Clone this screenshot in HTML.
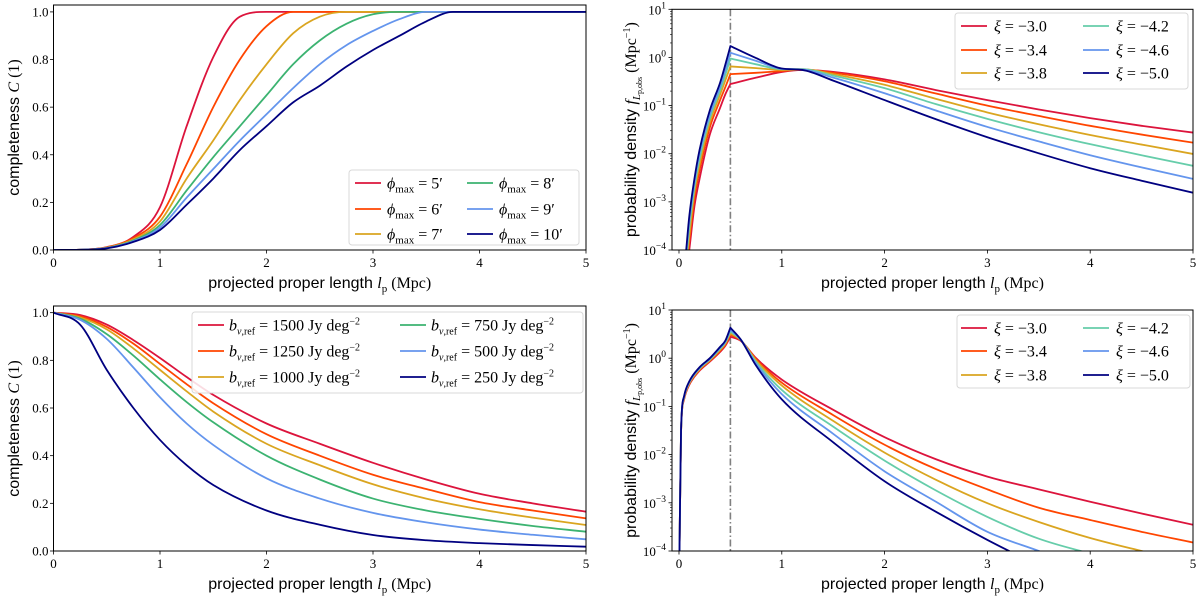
<!DOCTYPE html>
<html><head><meta charset="utf-8"><style>
html,body{margin:0;padding:0;background:#fff;width:1200px;height:599px;overflow:hidden;}
svg{display:block;}
.tk{font-family:"Liberation Serif",serif;font-size:13px;fill:#000;}
.al{font-family:"Liberation Sans",sans-serif;font-size:16px;fill:#000;}
.m{font-family:"Liberation Serif",serif;}
.lg{font-family:"Liberation Serif",serif;font-size:16px;fill:#000;}
</style></head><body>
<svg id="fig" width="1200" height="599" viewBox="0 0 1200 599" xmlns="http://www.w3.org/2000/svg"></svg>
<script>
// ---- data: top-left completeness vs phi_max ----
const tlX=[0,0.25,0.5,0.75,1,1.25,1.5,1.75,2,2.25,2.5,2.75,3,3.25,3.5,3.75,4,4.5,5];
const tlRed=[0,0.001,0.012,0.055,0.18,0.52,0.81,0.98,1,1,1,1,1,1,1,1,1,1,1];
const tlOrange=[0,0.001,0.011,0.05,0.14,0.36,0.6,0.8,0.94,1,1,1,1,1,1,1,1,1,1];
const tlGold=[0,0.001,0.01,0.045,0.12,0.3,0.46,0.63,0.78,0.91,0.98,1,1,1,1,1,1,1,1];
const tlGreen=[0,0.001,0.009,0.04,0.105,0.25,0.39,0.52,0.65,0.78,0.88,0.95,0.99,1,1,1,1,1,1];
const tlBlue=[0,0.001,0.008,0.037,0.094,0.22,0.34,0.46,0.57,0.68,0.78,0.86,0.92,0.97,1,1,1,1,1];
const tlNavy=[0,0.001,0.007,0.034,0.084,0.19,0.3,0.42,0.52,0.62,0.69,0.77,0.84,0.9,0.96,1,1,1,1];
const tlLabels=["5","6","7","8","9","10"];
// ---- top-right probability density (xi) ----
const trX=[0.07,0.1,0.15,0.2,0.3,0.4,0.45,0.5,0.75,1,1.2,1.5,2,2.5,3,3.5,4,4.5,5];
const trRed=[0.00003,0.0001,0.0008,0.003,0.025,0.09,0.17,0.28,0.38,0.5,0.55,0.5,0.35,0.21,0.13,0.083,0.055,0.038,0.0275];
const trOrange=[0.00004,0.00015,0.0012,0.0045,0.035,0.13,0.24,0.45,0.48,0.52,0.56,0.48,0.32,0.178,0.1,0.061,0.038,0.025,0.017];
const trGold=[0.00005,0.0002,0.0016,0.006,0.045,0.17,0.33,0.65,0.6,0.55,0.57,0.45,0.27,0.138,0.072,0.041,0.0245,0.0155,0.0099];
const trTeal=[0.00006,0.0003,0.002,0.008,0.055,0.21,0.43,0.95,0.72,0.57,0.57,0.42,0.23,0.107,0.053,0.028,0.0158,0.0093,0.0056];
const trBlue=[0.00008,0.0004,0.0025,0.01,0.065,0.25,0.55,1.25,0.85,0.58,0.56,0.38,0.18,0.079,0.036,0.018,0.0093,0.0052,0.003];
const trNavy=[0.0001,0.0005,0.003,0.012,0.08,0.3,0.7,1.72,0.97,0.59,0.55,0.33,0.13,0.052,0.022,0.0102,0.005,0.00275,0.00155];
// ---- bottom-left completeness vs b_ref ----
const blX=[0,0.25,0.5,0.75,1,1.25,1.5,2,2.5,3,3.5,4,4.5,5];
const blRed=[1,0.99,0.95,0.885,0.81,0.73,0.655,0.535,0.45,0.37,0.3,0.24,0.2,0.165];
const blOrange=[1,0.985,0.94,0.87,0.785,0.7,0.62,0.49,0.4,0.32,0.26,0.205,0.17,0.137];
const blGold=[1,0.98,0.93,0.85,0.76,0.67,0.585,0.45,0.36,0.28,0.22,0.175,0.14,0.109];
const blGreen=[1,0.975,0.91,0.82,0.72,0.625,0.54,0.4,0.3,0.22,0.17,0.135,0.105,0.081];
const blBlue=[1,0.97,0.89,0.77,0.645,0.535,0.445,0.305,0.22,0.16,0.12,0.09,0.068,0.049];
const blNavy=[1,0.95,0.76,0.6,0.466,0.36,0.277,0.17,0.11,0.067,0.045,0.033,0.025,0.018];
const blLabels=["1500","1250","1000","750","500","250"];
// ---- bottom-right probability density ----
const brX=[0.005,0.02,0.05,0.1,0.2,0.3,0.4,0.45,0.5,0.6,0.75,1,1.5,2,2.5,3,3.5,4,4.5,5];
const brRed=[0.0001,0.03,0.14,0.28,0.55,0.85,1.35,1.8,2.8,2.3,1.0,0.36,0.085,0.023,0.008,0.0035,0.0019,0.00105,0.0006,0.00035];
const brOrange=[0.0001,0.03,0.145,0.29,0.57,0.88,1.42,1.9,3.1,2.35,0.95,0.31,0.066,0.016,0.005,0.0019,0.00079,0.00044,0.00025,0.00015];
const brGold=[0.0001,0.03,0.15,0.3,0.59,0.91,1.5,2.0,3.3,2.4,0.9,0.27,0.05,0.011,0.003,0.00098,0.0004,0.000186,0.0001,0.000056];
const brTeal=[0.0001,0.031,0.155,0.31,0.61,0.94,1.57,2.1,3.6,2.4,0.83,0.22,0.038,0.0075,0.0018,0.00051,0.00018,0.000089,0.00005,0.000025];
const brBlue=[0.0001,0.032,0.16,0.32,0.63,0.97,1.65,2.2,3.9,2.45,0.77,0.18,0.027,0.0045,0.00105,0.00025,0.0001,0.00004,0.000015,0.000008];
const brNavy=[0.0001,0.033,0.165,0.33,0.65,1.0,1.72,2.3,4.3,2.45,0.7,0.14,0.018,0.0028,0.00065,0.00017,0.00005,0.000016,0.000005,0.000002];
const xiLabels=["\u22123.0","\u22123.4","\u22123.8","\u22124.2","\u22124.6","\u22125.0"];
const colsL=["#dc143c","#ff4500","#daa520","#3cb371","#6495ed","#000080"];
const colsR=["#dc143c","#ff4500","#daa520","#66cdaa","#6495ed","#000080"];

const NS="http://www.w3.org/2000/svg";
const svg=document.getElementById('fig');
function mk(tag,attrs,parent){const e=document.createElementNS(NS,tag);for(const k in attrs)e.setAttribute(k,attrs[k]);(parent||svg).appendChild(e);return e;}

function mono(pts){
  const n=pts.length; if(n<2)return "";
  const dx=[],s=[];
  for(let i=0;i<n-1;i++){dx.push(pts[i+1][0]-pts[i][0]);s.push((pts[i+1][1]-pts[i][1])/dx[i]);}
  const m=new Array(n);
  m[0]=s[0];m[n-1]=s[n-2];
  for(let i=1;i<n-1;i++){ if(s[i-1]*s[i]<=0)m[i]=0; else m[i]=(s[i-1]+s[i])/2; }
  for(let i=0;i<n-1;i++){
    if(s[i]===0){m[i]=0;m[i+1]=0;continue;}
    const a=m[i]/s[i],b=m[i+1]/s[i],h=a*a+b*b;
    if(h>9){const t=3/Math.sqrt(h);m[i]=t*a*s[i];m[i+1]=t*b*s[i];}
  }
  let d="M"+pts[0][0].toFixed(2)+","+pts[0][1].toFixed(2);
  for(let i=0;i<n-1;i++){
    const h=dx[i];
    d+="C"+(pts[i][0]+h/3).toFixed(2)+","+(pts[i][1]+m[i]*h/3).toFixed(2)+" "+(pts[i+1][0]-h/3).toFixed(2)+","+(pts[i+1][1]-m[i+1]*h/3).toFixed(2)+" "+pts[i+1][0].toFixed(2)+","+pts[i+1][1].toFixed(2);
  }
  return d;
}

function panel(cfg){
  const g=mk('g',{});
  
  
  const sx=v=>cfg.x0+(v-cfg.xmin)/(cfg.xmax-cfg.xmin)*(cfg.x1-cfg.x0);
  const sy=v=>{const t=cfg.log?Math.log10(Math.max(v,1e-9)):v;return cfg.y1-(t-cfg.ymin)/(cfg.ymax-cfg.ymin)*(cfg.y1-cfg.y0);};
  const cid='clip-'+cfg.name;
  const cp=mk('clipPath',{id:cid},g);
  mk('rect',{x:cfg.x0,y:cfg.y0,width:cfg.x1-cfg.x0,height:cfg.y1-cfg.y0},cp);
  const plot=mk('g',{'clip-path':'url(#'+cid+')'},g);
  if(cfg.vline!==undefined){
    const vl=mk('line',{x1:sx(cfg.vline),x2:sx(cfg.vline),y1:cfg.y0,y2:cfg.y1,stroke:'#808080','stroke-width':1.6,'stroke-dasharray':'7,2.5,1.5,2.5'},plot);
    
    
  }
  cfg.series.forEach((ys,k)=>{
    const pts=cfg.xs.map((x,i)=>[sx(x),sy(ys[i])]);
    let d;
    if(cfg.brk!==undefined){const b=cfg.xs.indexOf(cfg.brk);d=mono(pts.slice(0,b+1))+mono(pts.slice(b)).replace(/^M/,'L');}
    else d=mono(pts);
    const p=mk('path',{d:d,fill:'none',stroke:cfg.cols[k],'stroke-width':1.8,'stroke-linejoin':'round'},plot);
    
    
  });
  const fr=mk('rect',{x:cfg.x0,y:cfg.y0,width:cfg.x1-cfg.x0,height:cfg.y1-cfg.y0,fill:'none',stroke:'#000','stroke-width':1},g);
  
  
  [0,1,2,3,4,5].forEach(v=>{
    const x=sx(v);
    mk('line',{x1:x,x2:x,y1:cfg.y1,y2:cfg.y1+3.5,stroke:'#000','stroke-width':0.8},g);
    const t=mk('text',{x:x,y:cfg.y1+17,'text-anchor':'middle',class:'tk'},g);
    t.textContent=String(v);
    
    
  });
  if(cfg.log){
    for(let e=cfg.ymin;e<=cfg.ymax;e++){
      const y=sy(Math.pow(10,e));
      mk('line',{x1:cfg.x0-3.5,x2:cfg.x0,y1:y,y2:y,stroke:'#000','stroke-width':0.8},g);
      if(e<cfg.ymax)for(let k=2;k<10;k++){const yy=sy(k*Math.pow(10,e));mk('line',{x1:cfg.x0-2,x2:cfg.x0,y1:yy,y2:yy,stroke:'#000','stroke-width':0.6},g);}
      const t=mk('text',{x:cfg.x0-6,y:y+5,'text-anchor':'end',class:'tk'},g);
      
      
      t.appendChild(document.createTextNode('10'));
      const sp=mk('tspan',{dy:-6,'font-size':'9.5px'},t);sp.textContent=(e<0?'\u2212':'')+Math.abs(e);
    }
  } else {
    [0,0.2,0.4,0.6,0.8,1.0].forEach(v=>{
      const y=sy(v);
      mk('line',{x1:cfg.x0-3.5,x2:cfg.x0,y1:y,y2:y,stroke:'#000','stroke-width':0.8},g);
      const t=mk('text',{x:cfg.x0-5,y:y+4.5,'text-anchor':'end',class:'tk'},g);
      t.textContent=v.toFixed(1);
      
      
    });
  }
  const xl=mk('text',{x:(cfg.x0+cfg.x1)/2,y:cfg.y1+38,'text-anchor':'middle',class:'al'},g);
  
  
  xl.innerHTML='projected proper length <tspan class="m" font-style="italic">l</tspan><tspan class="m" font-size="11px" dy="4">p</tspan><tspan class="m" dy="-4"> (Mpc)</tspan>';
  const cy=(cfg.y0+cfg.y1)/2;
  const yl=mk('text',{x:0,y:0,'text-anchor':'middle',class:'al',transform:'translate('+cfg.ylx+','+cy+') rotate(-90)'},g);
  
  
  if(cfg.log) yl.innerHTML='probability density <tspan class="m" font-style="italic">f</tspan><tspan class="m" font-style="italic" font-size="11px" dy="4">L</tspan><tspan class="m" font-size="8px" dy="2">p,obs</tspan><tspan class="m" dy="-6">  (Mpc</tspan><tspan class="m" font-size="10px" dy="-6">\u22121</tspan><tspan class="m" dy="6">)</tspan>';
  else yl.innerHTML='completeness <tspan class="m" font-style="italic">C</tspan><tspan class="m"> (1)</tspan>';
  const L=cfg.leg;
  const lb=mk('rect',{x:L.x,y:L.y,width:L.w,height:L.h,rx:3,fill:'#fff','fill-opacity':0.85,stroke:'#d8d8d8','stroke-width':1},g);
  
  
  cfg.labels.forEach((lab,k)=>{
    const col=Math.floor(k/3),row=k%3;
    const lx=L.cx[col],ly=L.ry[row];
    const ln=mk('line',{x1:lx,x2:lx+26,y1:ly,y2:ly,stroke:cfg.cols[k],'stroke-width':1.8},g);
    
    
    const t=mk('text',{x:lx+L.tx,y:ly+5.5,class:'lg'},g);
    
    
    t.innerHTML=cfg.legFmt(lab);
  });
}

panel({name:'completeness-phi-panel',x0:53.5,x1:586,y0:5,y1:250,xmin:0,xmax:5,ymin:0,ymax:1.029,log:false,ylx:19,
  xs:tlX,series:[tlRed,tlOrange,tlGold,tlGreen,tlBlue,tlNavy],cols:colsL,labels:tlLabels,
  leg:{x:349,y:170,w:230,h:75,cx:[355,467],ry:[183,209,234],tx:32},
  legFmt:l=>'<tspan font-style="italic">\u03d5</tspan><tspan font-size="11px" dy="4">max</tspan><tspan dy="-4"> = '+l+'\u2032</tspan>'});
panel({name:'density-phi-panel',x0:672,x1:1193,y0:9.3,y1:250,xmin:-0.068,xmax:5,ymin:-4,ymax:1,log:true,ylx:636,vline:0.5,brk:0.5,
  xs:trX,series:[trRed,trOrange,trGold,trTeal,trBlue,trNavy],cols:colsR,labels:xiLabels,
  leg:{x:955,y:13,w:233,h:76,cx:[961,1083],ry:[26,50,73],tx:33},
  legFmt:l=>'<tspan font-style="italic">\u03be</tspan> = '+l});
panel({name:'completeness-bref-panel',x0:53.5,x1:586,y0:306,y1:551,xmin:0,xmax:5,ymin:0,ymax:1.028,log:false,ylx:19,
  xs:blX,series:[blRed,blOrange,blGold,blGreen,blBlue,blNavy],cols:colsL,labels:blLabels,
  leg:{x:192,y:312,w:391,h:81,cx:[198,400],ry:[325,351,377],tx:31},
  legFmt:l=>'<tspan font-style="italic">b</tspan><tspan font-size="10px" dy="4"><tspan font-style="italic">\u03bd</tspan>,ref</tspan><tspan dy="-4"> = '+l+' Jy deg</tspan><tspan font-size="10px" dy="-6">\u22122</tspan>'});
panel({name:'density-bref-panel',x0:672,x1:1193,y0:310,y1:551,xmin:-0.068,xmax:5,ymin:-4,ymax:1,log:true,ylx:636,vline:0.5,brk:0.5,
  xs:brX,series:[brRed,brOrange,brGold,brTeal,brBlue,brNavy],cols:colsR,labels:xiLabels,
  leg:{x:957,y:315,w:233,h:73,cx:[961,1083],ry:[328,351,375],tx:33},
  legFmt:l=>'<tspan font-style="italic">\u03be</tspan> = '+l});
</script>
</body></html>
